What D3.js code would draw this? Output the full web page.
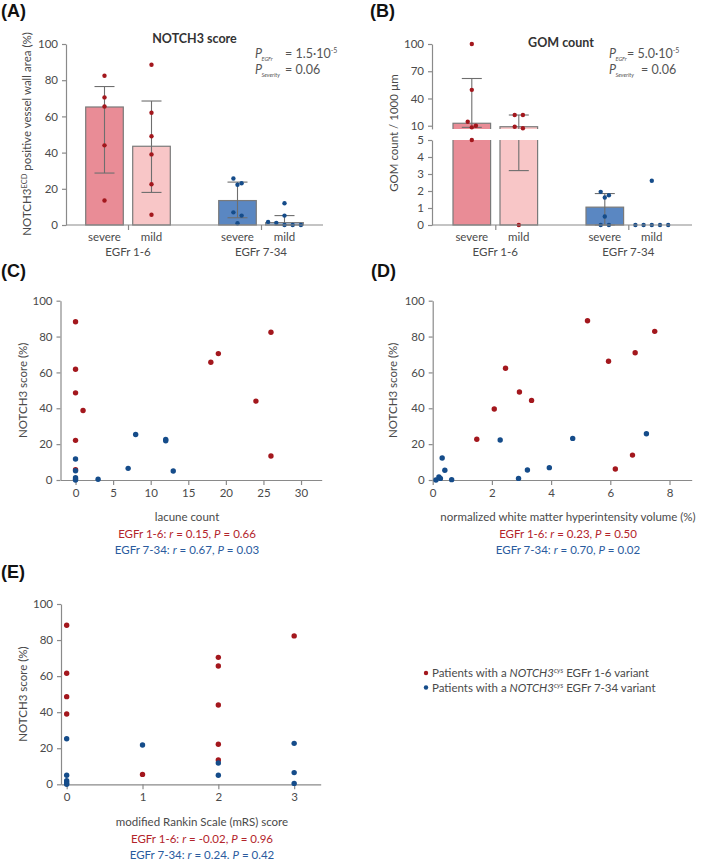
<!DOCTYPE html>
<html><head><meta charset="utf-8">
<script src="https://cdn.jsdelivr.net/npm/d3@7"></script>
<style>body{margin:0;background:#fff}svg{display:block}</style>
</head><body>
<script>
// ---------------- DATA ----------------
const egfrGroups = ["EGFr 1-6", "EGFr 7-34"];
const severityLevels = ["severe", "mild"];
const barGroup = ["EGFr 1-6", "EGFr 1-6", "EGFr 7-34", "EGFr 7-34"];
const barSeverity = ["severe", "mild", "severe", "mild"];

// Panel A: NOTCH3 score (%)
const notch3Median = [65.2, 43.5, 13.5, 1.3];
const notch3Low = [28.7, 18, 4, 0];
const notch3High = [76.5, 68.5, 23.7, 5.2];
const notch3Points = [
  [82.5, 70.5, 65.5, 44, 13.5],
  [88.5, 62, 49, 39, 22.5, 5.7],
  [25.7, 23.1, 22.2, 7, 5.2, 1],
  [12, 5.2, 1.7, 1.2, 0, 0, 0]
];
const notch3Ticks = [0, 20, 40, 60, 80, 100];

// Panel B: GOM count / 1000 µm (broken axis)
const gomMedian = [12.7, 8.9, 1.05, 0];
const gomLow = [8.2, 3.2, 0, 0];
const gomHigh = [62, 21.8, 1.85, 0];
const gomPoints = [
  [100, 49.5, 14.4, 10, 8.2, 5],
  [21.8, 21.8, 8.9, 7.2, 0],
  [1.95, 1.75, 1.62, 0.5, 0, 0],
  [2.6, 0, 0, 0, 0, 0]
];
const gomTicksUpper = [10, 40, 70, 100];
const gomTicksLower = [0, 1, 2, 3, 4, 5];

// Panel C: lacune count
const lacuneRed = [0, 0, 0, 1, 0, 0, 18, 19, 24, 26, 26];
const notchRedC = [88.3, 61.8, 48.6, 38.8, 22.1, 5.7, 65.7, 70.5, 44, 82.4, 13.4];
const lacuneBlue = [0, 0, 0, 0, 0, 3, 7, 8, 12, 12, 13];
const notchBlueC = [11.7, 5.2, 1.3, 0.5, 0, 0.4, 6.5, 25.4, 22.6, 21.9, 5];
const lacuneTicks = [0, 5, 10, 15, 20, 25, 30];

// Panel D: normalized WMH volume (%)
const wmhRed = [1.49, 2.08, 2.46, 2.93, 3.34, 5.23, 5.94, 6.17, 6.75, 6.84, 7.5];
const notchRedD = [22.7, 39.6, 62.3, 49.1, 44.4, 88.8, 66.2, 6.1, 13.9, 71, 82.9];
const wmhBlue = [0.11, 0.21, 0.26, 0.32, 0.41, 0.64, 2.28, 2.9, 3.2, 3.94, 4.73, 7.22];
const notchBlueD = [0, 1.7, 0.9, 12.3, 5.4, 0.2, 22.3, 0.9, 5.6, 6.9, 23.2, 25.8];
const wmhTicks = [0, 2, 4, 6, 8];

// Panel E: modified Rankin Scale
const mrsRed = [0, 0, 0, 0, 1, 2, 2, 2, 2, 2, 3];
const notchRedE = [88.2, 61.6, 48.6, 39, 5.5, 70.4, 65.6, 44, 22.2, 13.5, 82.3];
const mrsBlue = [0, 0, 0, 0, 0, 1, 2, 2, 3, 3, 3];
const notchBlueE = [25.3, 5, 2, 0.9, 0, 21.8, 11.8, 5, 22.7, 6.5, 0.5];
const mrsTicks = [0, 1, 2, 3];

const statsC = ["0.15", "0.66", "0.67", "0.03"];
const statsD = ["0.23", "0.50", "0.70", "0.02"];
const statsE = ["-0.02", "0.96", "0.24", "0.42"];

// ---------------- STYLE ----------------
const FONT = "Lato, 'Open Sans', sans-serif";
const AXIS = "#8a8a8a", TXT = "#4a4a4a";
const RED = "#a3171d", BLUE = "#154c8a";
const RED_T = "#b3242b", BLUE_T = "#2a5b9e";
const barFill = {"EGFr 1-6|severe": "#e98c96", "EGFr 1-6|mild": "#f8c6c7",
                 "EGFr 7-34|severe": "#5a87c2", "EGFr 7-34|mild": "#a9c2e2"};
const intFmt = d3.format("d");

const svg = d3.select("body").append("svg").attr("width", 709).attr("height", 862)
  .style("font-family", FONT);

function styleAxis(g) {
  g.select(".domain").attr("stroke", AXIS).attr("stroke-width", 1.2);
  g.selectAll(".tick line").attr("stroke", AXIS).attr("stroke-width", 1.2);
  g.selectAll(".tick text").attr("fill", TXT).style("font-size", "11.5px").style("font-family", FONT);
}
function panelLabel(t, x, y) {
  svg.append("text").attr("x", x).attr("y", y).text(t)
    .style("font-family", "'Liberation Sans', Arial, sans-serif").style("font-weight", "bold")
    .style("font-size", "18px").attr("fill", "#111");
}
function yLabel(x, y, build) {
  const t = svg.append("text").attr("transform", `translate(${x},${y}) rotate(-90)`)
    .attr("text-anchor", "middle").attr("fill", TXT).style("font-size", "11.5px");
  build(t);
}
function rowOffsets(vals, yfn, s = 8.2, rowH = 5) {
  const idx = vals.map((v, i) => i).sort((a, b) => vals[b] - vals[a]);
  const offs = new Array(vals.length).fill(0);
  let row = [];
  const flush = () => {
    row.forEach((i, k) => offs[i] = (k - (row.length - 1) / 2) * s);
    row = [];
  };
  idx.forEach(i => {
    if (row.length && Math.abs(yfn(vals[row[0]]) - yfn(vals[i])) >= rowH) flush();
    row.push(i);
  });
  flush();
  return offs;
}
function pAnnot(x, xEq1, xEq2, v1, exp1, v2) {
  const g = svg.append("g").attr("fill", "#555");
  g.append("text").attr("x", x).attr("y", 58).style("font-size", "12.5px").style("font-style", "italic").text("P");
  g.append("text").attr("x", x + 6.5).attr("y", 61).style("font-size", "5.5px").style("font-style", "italic").text("EGFr");
  const t1 = g.append("text").attr("x", xEq1).attr("y", 58).style("font-size", "12.5px").text("= " + v1);
  t1.append("tspan").attr("dy", -5).style("font-size", "7px").text(exp1);
  g.append("text").attr("x", x).attr("y", 74).style("font-size", "12.5px").style("font-style", "italic").text("P");
  g.append("text").attr("x", x + 6.5).attr("y", 77).style("font-size", "5.5px").style("font-style", "italic").text("Severity");
  g.append("text").attr("x", xEq2).attr("y", 74).style("font-size", "12.5px").text("= " + v2);
}

// x positioning for bar panels
function barX(center0) {
  const gx = d3.scalePoint().domain(egfrGroups).range([center0, center0 + 133]);
  const inner = d3.scaleBand().domain(severityLevels).range([-42.3, 42.3]).paddingInner(0.2);
  return {gx, inner};
}
function catLabels(gx, inner, y0) {
  egfrGroups.forEach(g => {
    severityLevels.forEach(s => {
      svg.append("text").attr("x", gx(g) + inner(s) + inner.bandwidth() / 2).attr("y", y0 + 16)
        .attr("text-anchor", "middle").attr("fill", TXT).style("font-size", "11.5px").text(s);
    });
    svg.append("text").attr("x", gx(g)).attr("y", y0 + 31).attr("text-anchor", "middle")
      .attr("fill", TXT).style("font-size", "11.5px").text(g);
  });
}

// ================= PANEL A =================
panelLabel("(A)", 1, 17);
{
  const yA = d3.scaleLinear().domain([0, 100]).range([225, 44]);
  const {gx, inner} = barX(128);
  const bw = inner.bandwidth();
  notch3Median.forEach((m, i) => {
    const x = gx(barGroup[i]) + inner(barSeverity[i]);
    svg.append("rect").attr("x", x).attr("y", yA(m)).attr("width", bw).attr("height", yA(0) - yA(m))
      .attr("fill", barFill[barGroup[i] + "|" + barSeverity[i]]).attr("stroke", "#7a7a7a").attr("stroke-width", 1.2);
  });
  notch3Median.forEach((m, i) => {
    const cx = gx(barGroup[i]) + inner(barSeverity[i]) + bw / 2;
    const g = svg.append("g").attr("stroke", "#6e6e6e").attr("stroke-width", 1.1);
    g.append("line").attr("x1", cx).attr("x2", cx).attr("y1", yA(notch3Low[i])).attr("y2", yA(notch3High[i]));
    [notch3Low[i], notch3High[i]].forEach(v => g.append("line").attr("x1", cx - 10).attr("x2", cx + 10).attr("y1", yA(v)).attr("y2", yA(v)));
  });
  notch3Points.forEach((pts, i) => {
    const cx = gx(barGroup[i]) + inner(barSeverity[i]) + bw / 2;
    const offs = rowOffsets(pts, yA);
    const col = barGroup[i] === "EGFr 1-6" ? RED : BLUE;
    pts.forEach((v, k) => svg.append("circle").attr("cx", cx + offs[k]).attr("cy", yA(v)).attr("r", 2.2).attr("fill", col));
  });
  const ay = svg.append("g").attr("transform", "translate(66,0)")
    .call(d3.axisLeft(yA).tickValues(notch3Ticks).tickFormat(intFmt).tickSize(4).tickSizeOuter(0).tickPadding(4));
  styleAxis(ay);
  svg.append("line").attr("x1", 66).attr("x2", 323).attr("y1", 225).attr("y2", 225).attr("stroke", AXIS).attr("stroke-width", 1.2);
  const ax = svg.append("g").attr("transform", "translate(0,225)").call(d3.axisBottom(gx).tickSize(5).tickFormat(""));
  ax.select(".domain").remove();
  styleAxis(ax);
  catLabels(gx, inner, 225);
  svg.append("text").attr("x", 194.5).attr("y", 43).attr("text-anchor", "middle").attr("fill", "#333")
    .style("font-size", "12.5px").style("font-weight", "bold").text("NOTCH3 score");
  pAnnot(255, 285, 285, "1.5·10", "-5", "0.06");
  yLabel(31, 134, t => {
    t.append("tspan").text("NOTCH3");
    t.append("tspan").attr("dy", -4).style("font-size", "7.5px").text("ECD");
    t.append("tspan").attr("dy", 4).text(" positive vessel wall area (%)");
  });
}

// ================= PANEL B =================
panelLabel("(B)", 370, 17);
{
  const yBu = d3.scaleLinear().domain([6.5, 100]).range([128.9, 44]);
  const yBl = d3.scaleLinear().domain([0, 5]).range([225, 140]);
  const yB = v => v > 5.5 ? yBu(v) : yBl(v);
  const {gx, inner} = barX(495.3);
  const bw = inner.bandwidth();
  const defs = svg.append("defs");
  defs.append("clipPath").attr("id", "clipU").append("rect").attr("x", 432).attr("y", 30).attr("width", 270).attr("height", 128.9 - 30);
  defs.append("clipPath").attr("id", "clipL").append("rect").attr("x", 432).attr("y", 140).attr("width", 270).attr("height", 87);
  const gU = svg.append("g").attr("clip-path", "url(#clipU)");
  const gL = svg.append("g").attr("clip-path", "url(#clipL)");
  gomMedian.forEach((m, i) => {
    const x = gx(barGroup[i]) + inner(barSeverity[i]);
    const fill = barFill[barGroup[i] + "|" + barSeverity[i]];
    if (m > 6.5) {
      gU.append("rect").attr("x", x).attr("y", yBu(m)).attr("width", bw).attr("height", yBu(6.5) + 6 - yBu(m))
        .attr("fill", fill).attr("stroke", "#7a7a7a").attr("stroke-width", 1.2);
    }
    const top = m > 5 ? yBl(5) - 6 : yBl(m);
    if (m > 0) gL.append("rect").attr("x", x).attr("y", top).attr("width", bw).attr("height", yBl(0) - top)
      .attr("fill", fill).attr("stroke", "#7a7a7a").attr("stroke-width", 1.2);
  });
  gomMedian.forEach((m, i) => {
    if (gomHigh[i] === gomLow[i]) return;
    const cx = gx(barGroup[i]) + inner(barSeverity[i]) + bw / 2;
    [[gU, yBu], [gL, yBl]].forEach(([g, sc]) => {
      const e = g.append("g").attr("stroke", "#6e6e6e").attr("stroke-width", 1.1);
      e.append("line").attr("x1", cx).attr("x2", cx).attr("y1", sc(gomLow[i])).attr("y2", sc(gomHigh[i]));
      [gomLow[i], gomHigh[i]].forEach(v => {
        if ((sc === yBu && v > 6.5) || (sc === yBl && v <= 5))
          e.append("line").attr("x1", cx - 10).attr("x2", cx + 10).attr("y1", sc(v)).attr("y2", sc(v));
      });
    });
  });
  gomPoints.forEach((pts, i) => {
    const cx = gx(barGroup[i]) + inner(barSeverity[i]) + bw / 2;
    const offs = rowOffsets(pts, yB);
    const col = barGroup[i] === "EGFr 1-6" ? RED : BLUE;
    pts.forEach((v, k) => svg.append("circle").attr("cx", cx + offs[k]).attr("cy", yB(v)).attr("r", 2.2).attr("fill", col));
  });
  const ayU = svg.append("g").attr("transform", "translate(432,0)")
    .call(d3.axisLeft(yBu).tickValues(gomTicksUpper).tickFormat(intFmt).tickSize(4).tickSizeOuter(0).tickPadding(4));
  styleAxis(ayU);
  const ayL = svg.append("g").attr("transform", "translate(432,0)")
    .call(d3.axisLeft(yBl).tickValues(gomTicksLower).tickFormat(intFmt).tickSize(4).tickSizeOuter(0).tickPadding(4));
  styleAxis(ayL);
  svg.append("line").attr("x1", 432).attr("x2", 692).attr("y1", 225).attr("y2", 225).attr("stroke", AXIS).attr("stroke-width", 1.2);
  const ax = svg.append("g").attr("transform", "translate(0,225)").call(d3.axisBottom(gx).tickSize(5).tickFormat(""));
  ax.select(".domain").remove();
  styleAxis(ax);
  catLabels(gx, inner, 225);
  svg.append("text").attr("x", 561).attr("y", 47).attr("text-anchor", "middle").attr("fill", "#333")
    .style("font-size", "12.5px").style("font-weight", "bold").text("GOM count");
  pAnnot(609, 627, 641, "5.0·10", "-5", "0.06");
  yLabel(398, 133, t => t.text("GOM count / 1000 µm"));
}

// ================= SCATTER PANELS =================
function scatter(opts) {
  const x = d3.scaleLinear().domain(opts.xDomain).range(opts.xRange);
  const y = d3.scaleLinear().domain([0, 100]).range(opts.yRange);
  const y0 = opts.yRange[0];
  const ax = svg.append("g").attr("transform", `translate(0,${y0})`)
    .call(d3.axisBottom(x).tickValues(opts.xTicks).tickFormat(intFmt).tickSize(5).tickSizeOuter(0).tickPadding(4));
  styleAxis(ax);
  const ay = svg.append("g").attr("transform", `translate(${opts.xRange[0]},0)`)
    .call(d3.axisLeft(y).tickValues(notch3Ticks).tickFormat(intFmt).tickSize(4).tickSizeOuter(0).tickPadding(4));
  styleAxis(ay);
  opts.redX.forEach((v, i) => svg.append("circle").attr("cx", x(v)).attr("cy", y(opts.redY[i])).attr("r", 2.7).attr("fill", RED));
  opts.blueX.forEach((v, i) => svg.append("circle").attr("cx", x(v)).attr("cy", y(opts.blueY[i])).attr("r", 2.7).attr("fill", BLUE));
  svg.append("text").attr("x", opts.labelX).attr("y", opts.labelY).attr("text-anchor", "middle")
    .attr("fill", TXT).style("font-size", "11.5px").text(opts.xLabel);
  const s = opts.stats;
  [[RED_T, "EGFr 1-6: ", s[0], s[1], ", "], [BLUE_T, "EGFr 7-34: ", s[2], s[3], opts.sep2 || ", "]].forEach((row, k) => {
    const t = svg.append("text").attr("x", opts.labelX).attr("y", opts.labelY + 17 + k * 16)
      .attr("text-anchor", "middle").attr("fill", row[0]).style("font-size", "11.5px");
    t.append("tspan").text(row[1]);
    t.append("tspan").style("font-style", "italic").text("r");
    t.append("tspan").text(" = " + row[2] + row[4]);
    t.append("tspan").style("font-style", "italic").text("P");
    t.append("tspan").text(" = " + row[3]);
  });
  yLabel(opts.yLabX, (opts.yRange[0] + opts.yRange[1]) / 2, t => t.text("NOTCH3 score (%)"));
}

panelLabel("(C)", 1, 277);
scatter({xDomain: [-2, 32.75], xRange: [60.5, 321.7], yRange: [480, 300.7], xTicks: lacuneTicks,
  redX: lacuneRed, redY: notchRedC, blueX: lacuneBlue, blueY: notchBlueC,
  xLabel: "lacune count", labelX: 187, labelY: 521, stats: statsC, yLabX: 27});

panelLabel("(D)", 371, 277);
scatter({xDomain: [0, 8.75], xRange: [432.7, 691.7], yRange: [480, 300.7], xTicks: wmhTicks,
  redX: wmhRed, redY: notchRedD, blueX: wmhBlue, blueY: notchBlueD,
  xLabel: "normalized white matter hyperintensity volume (%)", labelX: 568, labelY: 521, stats: statsD, yLabX: 397});

panelLabel("(E)", 1, 578);
scatter({xDomain: [-0.075, 3.35], xRange: [61, 320.7], yRange: [784.3, 604], xTicks: mrsTicks,
  redX: mrsRed, redY: notchRedE, blueX: mrsBlue, blueY: notchBlueE,
  xLabel: "modified Rankin Scale (mRS) score", labelX: 202, labelY: 826, stats: statsE, yLabX: 27, sep2: ". "});

// ================= LEGEND =================
[[RED, "EGFr 1-6"], [BLUE, "EGFr 7-34"]].forEach((d, k) => {
  const yy = 673 + k * 14.5;
  svg.append("circle").attr("cx", 426).attr("cy", yy).attr("r", 2.2).attr("fill", d[0]);
  const t = svg.append("text").attr("x", 432).attr("y", yy + 4).attr("fill", TXT).style("font-size", "11.5px");
  t.append("tspan").text("Patients with a ");
  t.append("tspan").style("font-style", "italic").text("NOTCH3");
  t.append("tspan").attr("dy", -4).style("font-size", "7px").style("font-style", "italic").text("cys");
  t.append("tspan").attr("dy", 4).text(" " + d[1] + " variant");
});
</script>
</body></html>
